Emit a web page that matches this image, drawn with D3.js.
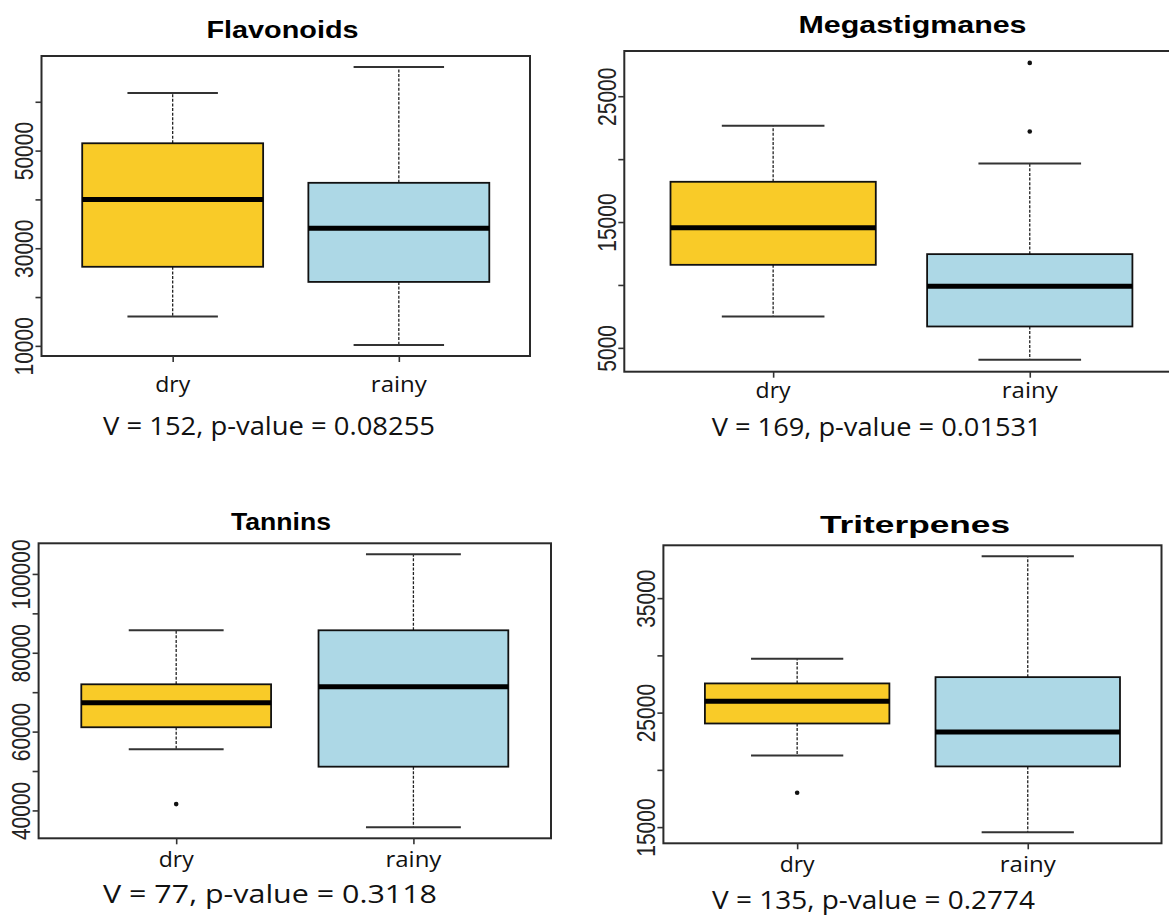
<!DOCTYPE html>
<html><head><meta charset="utf-8">
<script src="https://cdn.jsdelivr.net/npm/d3@7"></script>
<style>body{margin:0;background:#fff}</style>
</head><body><svg id="c" width="1169" height="915"></svg>
<script>
// ---- data ----
const titles = ["Flavonoids", "Megastigmanes", "Tannins", "Triterpenes"];
const categories = ["dry", "rainy"];
const statsText = [
  "V = 152, p-value = 0.08255",
  "V = 169, p-value = 0.01531",
  "V = 77, p-value = 0.3118",
  "V = 135, p-value = 0.2774"
];
// [lower whisker, Q1, median, Q3, upper whisker]
const flavonoidsDry   = [16000, 26200, 40000, 51500, 61800];
const flavonoidsRainy = [10200, 23100, 34100, 43400, 67100];
const flavonoidsOutliers = [[], []];
const megastigmanesDry   = [7500, 11600, 14550, 18200, 22650];
const megastigmanesRainy = [4050, 6700, 9900, 12450, 19650];
const megastigmanesOutliers = [[], [22200, 27650]];
const tanninsDry   = [55500, 61100, 67300, 72000, 85700];
const tanninsRainy = [35700, 51100, 71400, 85700, 105000];
const tanninsOutliers = [[41600], []];
const triterpenesDry   = [21250, 24050, 26000, 27550, 29700];
const triterpenesRainy = [14550, 20300, 23300, 28100, 38650];
const triterpenesOutliers = [[18000], []];

const flavonoidsTicks = [10000, 20000, 30000, 40000, 50000, 60000];
const flavonoidsTickLabels = ["10000", "", "30000", "", "50000", ""];
const megastigmanesTicks = [5000, 10000, 15000, 20000, 25000];
const megastigmanesTickLabels = ["5000", "", "15000", "", "25000"];
const tanninsTicks = [40000, 50000, 60000, 70000, 80000, 90000, 100000];
const tanninsTickLabels = ["40000", "", "60000", "", "80000", "", "100000"];
const triterpenesTicks = [15000, 20000, 25000, 30000, 35000];
const triterpenesTickLabels = ["15000", "", "25000", "", "35000"];

const colors = ["#F9CB28", "#ADD8E6"];

const panelData = [
  {boxes: [flavonoidsDry, flavonoidsRainy], outliers: flavonoidsOutliers, ticks: flavonoidsTicks, labels: flavonoidsTickLabels},
  {boxes: [megastigmanesDry, megastigmanesRainy], outliers: megastigmanesOutliers, ticks: megastigmanesTicks, labels: megastigmanesTickLabels},
  {boxes: [tanninsDry, tanninsRainy], outliers: tanninsOutliers, ticks: tanninsTicks, labels: tanninsTickLabels},
  {boxes: [triterpenesDry, triterpenesRainy], outliers: triterpenesOutliers, ticks: triterpenesTicks, labels: triterpenesTickLabels}
];

// ---- layout (positions only) ----
const layout = [
  {left: 41.5, right: 530, top: 56, bottom: 356, titleX: 282.5, titleY: 38, titleW: 152, labelY: 392, statX: 269, statY: 435, statW: 332},
  {left: 624.3, right: 1178.6, top: 51, bottom: 371.7, titleX: 912.5, titleY: 33, titleW: 228, labelY: 398, statX: 876.7, statY: 436, statW: 330},
  {left: 38.6, right: 551, top: 543.3, bottom: 838.3, titleX: 281, titleY: 530, titleW: 100, labelY: 867, statX: 270, statY: 903, statW: 334},
  {left: 663.4, right: 1161.5, top: 545.3, bottom: 843.3, titleX: 915, titleY: 533, titleW: 190, labelY: 872, statX: 873.5, statY: 909, statW: 323}
];
const catTextW = [35, 56];

const svg = d3.select("#c");
svg.append("rect").attr("width", 1169).attr("height", 915).attr("fill", "#fff");

panelData.forEach((pd, p) => {
  const L = layout[p];
  const g = svg.append("g");
  const allVals = pd.boxes.flat().concat(pd.outliers.flat());
  const lo = d3.min(allVals), hi = d3.max(allVals), pad = (hi - lo) * 0.04;
  const y = d3.scaleLinear().domain([lo - pad, hi + pad]).range([L.bottom, L.top]);
  const x = d3.scaleLinear().domain([0.42, 2.58]).range([L.left, L.right]);

  // boxes
  pd.boxes.forEach((b, i) => {
    const c = i + 1;
    const [wl, q1, med, q3, wh] = b;
    const dash = "3,1.6";
    g.append("line").attr("x1", x(c)).attr("x2", x(c)).attr("y1", y(q3)).attr("y2", y(wh))
      .attr("stroke", "#222").attr("stroke-width", 1.3).attr("stroke-dasharray", dash);
    g.append("line").attr("x1", x(c)).attr("x2", x(c)).attr("y1", y(q1)).attr("y2", y(wl))
      .attr("stroke", "#222").attr("stroke-width", 1.3).attr("stroke-dasharray", dash);
    [wl, wh].forEach(v => {
      g.append("line").attr("x1", x(c - 0.2)).attr("x2", x(c + 0.2)).attr("y1", y(v)).attr("y2", y(v))
        .attr("stroke", "#333").attr("stroke-width", 2);
    });
    g.append("rect").attr("x", x(c - 0.4)).attr("width", x(c + 0.4) - x(c - 0.4))
      .attr("y", y(q3)).attr("height", y(q1) - y(q3))
      .attr("fill", colors[i]).attr("stroke", "#111").attr("stroke-width", 1.8);
    g.append("line").attr("x1", x(c - 0.4)).attr("x2", x(c + 0.4)).attr("y1", y(med)).attr("y2", y(med))
      .attr("stroke", "#000").attr("stroke-width", 5);
    pd.outliers[i].forEach(v => {
      g.append("circle").attr("cx", x(c)).attr("cy", y(v)).attr("r", 2.3).attr("fill", "#111");
    });
  });

  // frame
  g.append("rect").attr("x", L.left).attr("y", L.top).attr("width", L.right - L.left).attr("height", L.bottom - L.top)
    .attr("fill", "none").attr("stroke", "#2a2a2a").attr("stroke-width", 2);

  // y axis
  const ya = g.append("g").attr("transform", `translate(${L.left},0)`)
    .call(d3.axisLeft(y).tickValues(pd.ticks).tickSize(6).tickFormat((d, i) => pd.labels[i]));
  ya.select(".domain").remove();
  ya.selectAll(".tick line").attr("stroke", "#333").attr("stroke-width", 1.6);
  ya.selectAll(".tick text")
    .attr("x", null).attr("dy", null).attr("y", null)
    .attr("transform", "translate(-8.5,0) rotate(-90) scale(1,1.23)")
    .attr("text-anchor", "middle")
    .attr("fill", "#222")
    .style("font-family", "'Liberation Sans', Arial, sans-serif")
    .style("font-size", "21px");

  // x axis ticks
  const xa = g.append("g").attr("transform", `translate(0,${L.bottom})`)
    .call(d3.axisBottom(x).tickValues([1, 2]).tickSize(6).tickFormat(""));
  xa.select(".domain").remove();
  xa.selectAll(".tick line").attr("stroke", "#333").attr("stroke-width", 1.6);

  // category labels
  categories.forEach((cat, i) => {
    g.append("text").attr("x", x(i + 1)).attr("y", L.labelY).attr("text-anchor", "middle")
      .attr("textLength", catTextW[i]).attr("lengthAdjust", "spacingAndGlyphs")
      .style("font-family", "'Open Sans', 'Noto Sans', sans-serif").style("font-size", "22.5px")
      .attr("fill", "#111").text(cat);
  });

  // title
  g.append("text").attr("x", L.titleX).attr("y", L.titleY).attr("text-anchor", "middle")
    .attr("textLength", L.titleW).attr("lengthAdjust", "spacingAndGlyphs")
    .style("font-family", "'Liberation Sans', Arial, sans-serif").style("font-weight", "bold").style("font-size", "24px")
    .attr("fill", "#000").text(titles[p]);

  // stats
  g.append("text").attr("x", L.statX).attr("y", L.statY).attr("text-anchor", "middle")
    .attr("textLength", L.statW).attr("lengthAdjust", "spacingAndGlyphs")
    .style("font-family", "'Open Sans', 'Noto Sans', sans-serif").style("font-size", "25px")
    .attr("fill", "#111").text(statsText[p]);
});
</script></body></html>
